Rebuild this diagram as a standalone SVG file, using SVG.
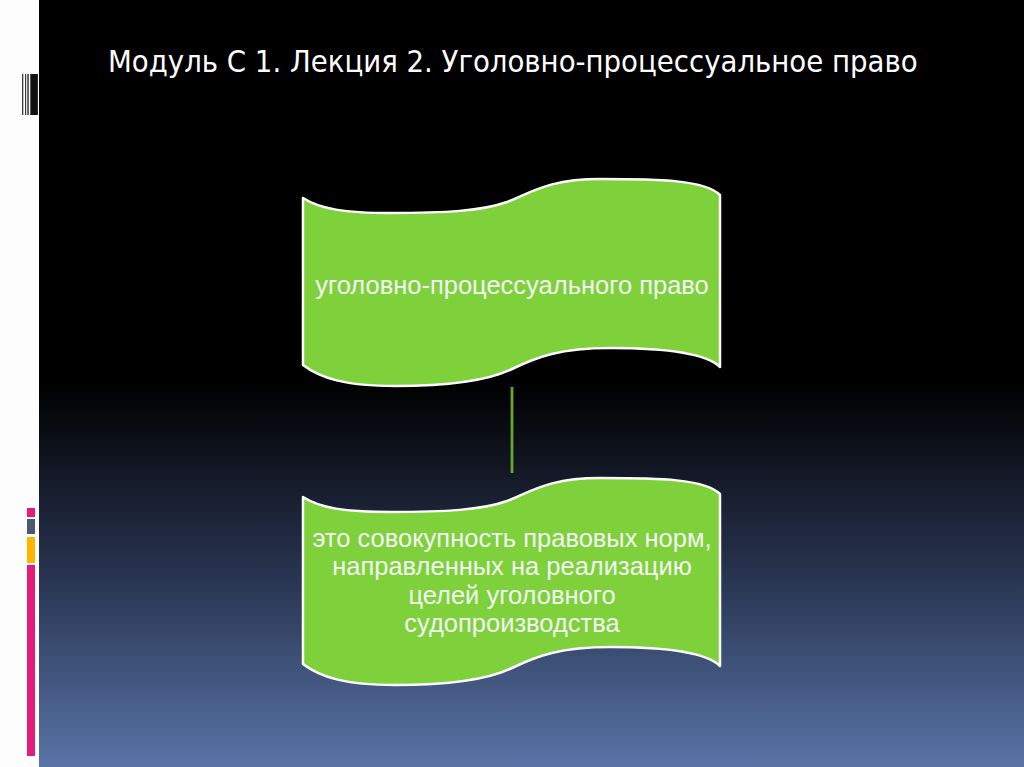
<svg xmlns="http://www.w3.org/2000/svg" width="1024" height="767" viewBox="0 0 1024 767">
<defs>
<linearGradient id="bg" x1="0" y1="0" x2="0" y2="767" gradientUnits="userSpaceOnUse">
<stop offset="0" stop-color="#000000"/>
<stop offset="0.5" stop-color="#000000"/>
<stop offset="0.75" stop-color="#283450"/>
<stop offset="1" stop-color="#5874a6"/>
</linearGradient>
<path id="wave" d="M303,198 C320,209 345,213 390,213 C445,213 482,211 507,202 C532,192 550,179 600,179 C660,179 705,180 720,195 L720,367 C705,352 660,348 610,348 C560,348 537,357 512,369 C488,381 450,386 395,386 C345,386 320,378 303,365 Z"/>
<style>
.wave{fill:#7ED13B;stroke:#ffffff;stroke-width:2.5;stroke-linejoin:round}
.lbl{font-family:"Liberation Sans",Arial,sans-serif;font-size:25.5px;fill:#f4f4f4;text-anchor:middle}
.title{font-family:"DejaVu Sans Condensed","DejaVu Sans",sans-serif;font-size:30.7px;fill:#ffffff}
.bar{fill:#3a3a3a}
</style>
</defs>
<rect x="0" y="0" width="1024" height="767" fill="#fdfdfd"/>
<rect x="39" y="0" width="985" height="767" fill="url(#bg)"/>
<g id="deco">
<rect class="bar" x="22" y="74" width="1.3" height="41"/>
<rect class="bar" x="25" y="74" width="1.2" height="41"/>
<rect class="bar" x="27.3" y="74" width="1.5" height="41"/>
<rect x="30.3" y="74" width="7.6" height="41" fill="#111"/>
<rect x="27" y="508" width="8" height="9" fill="#e31c79"/>
<rect x="27" y="519" width="8" height="15" fill="#4b5a6c"/>
<rect x="27" y="537" width="8" height="26" fill="#ffb400"/>
<rect x="27" y="565" width="8" height="191" fill="#e31c79"/>
</g>
<text class="title" x="108" y="72">Модуль С 1. Лекция 2. Уголовно-процессуальное право</text>
<g id="connectors">
<line x1="512" y1="387" x2="512" y2="473" stroke="#64a82c" stroke-width="2.8"/>
</g>
<g id="node1">
<use href="#wave" class="wave"/>
<text class="lbl" x="512" y="294">уголовно-процессуального право</text>
</g>
<g id="node2">
<use href="#wave" class="wave" transform="translate(0,299)"/>
<text class="lbl" x="512" y="547">это совокупность правовых норм,</text>
<text class="lbl" x="512" y="575">направленных на реализацию</text>
<text class="lbl" x="512" y="604">целей уголовного</text>
<text class="lbl" x="512" y="632">судопроизводства</text>
</g>
</svg>
